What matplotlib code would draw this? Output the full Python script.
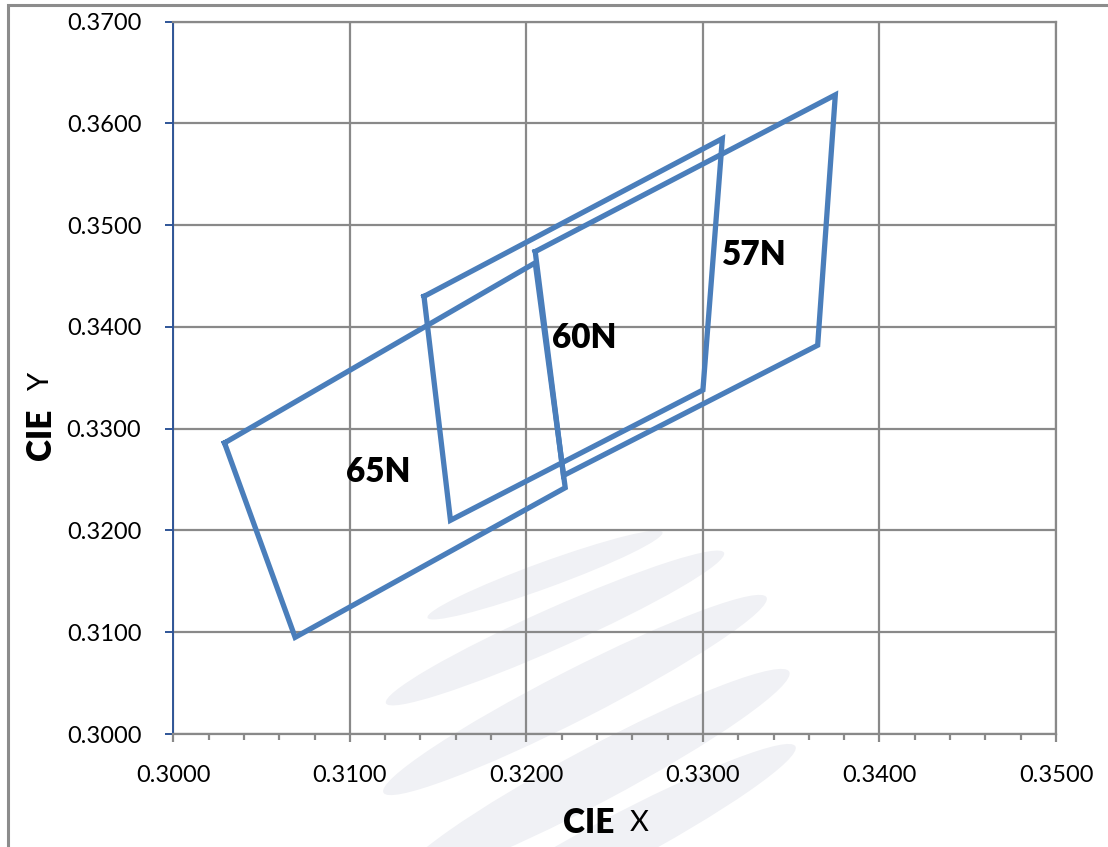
import matplotlib
matplotlib.use("Agg")
import matplotlib.pyplot as plt
from matplotlib.patches import Ellipse, Rectangle
from matplotlib.transforms import IdentityTransform
from matplotlib.ticker import MultipleLocator

# Quadrangle corners (CIE x, CIE y), closed
x65 = [0.3029, 0.3069, 0.3222, 0.3205, 0.3029]
y65 = [0.3286, 0.3095, 0.3242, 0.3463, 0.3286]
x60 = [0.3142, 0.3157, 0.3300, 0.3311, 0.3142]
y60 = [0.3430, 0.3210, 0.3338, 0.3585, 0.3430]
x57 = [0.3205, 0.3375, 0.3365, 0.3221, 0.3205]
y57 = [0.3474, 0.3628, 0.3382, 0.3254, 0.3474]

labels = ["65N", "60N", "57N"]
label_x = [0.3116, 0.3233, 0.3329]
label_y = [0.3257, 0.3389, 0.3471]

xticks = [0.30, 0.31, 0.32, 0.33, 0.34, 0.35]
yticks = [0.30, 0.31, 0.32, 0.33, 0.34, 0.35, 0.36, 0.37]

blue = "#4A7EBB"
grid = "#898989"

fig = plt.figure(figsize=(11.08, 8.47), dpi=100)
W, H = 1108, 847

# faint watermark shapes behind the chart
for cx, cy, w, h, a in [(545, 575, 250, 26, 20), (555, 628, 370, 40, 24),
                        (575, 695, 430, 50, 27), (595, 775, 440, 55, 28),
                        (610, 845, 420, 50, 28)]:
    fig.add_artist(Ellipse((cx, H - cy), w, h, angle=a, transform=IdentityTransform(),
                           facecolor="#F0F1F5", edgecolor="none", zorder=0))

# outer chart frame
fig.add_artist(Rectangle((8 / W, -0.1), 1.2, 1 - 5.5 / H + 0.1, transform=fig.transFigure,
                         fill=False, edgecolor="#8C8C8C", linewidth=2.2, zorder=1))

ax = fig.add_axes([173.3 / W, 1 - 734 / H, (1056 - 173.3) / W, (734 - 21.6) / H])
ax.patch.set_alpha(0)
ax.set_zorder(2)

ax.plot(x65, y65, color=blue, lw=3.8, solid_joinstyle="miter", zorder=3)
ax.plot(x60, y60, color=blue, lw=3.8, solid_joinstyle="miter", zorder=3)
ax.plot(x57, y57, color=blue, lw=3.8, solid_joinstyle="miter", zorder=3)

for t, lx, ly in zip(labels, label_x, label_y):
    ax.text(lx, ly, t, fontsize=24, fontweight="heavy", family="Lato",
            ha="center", va="center", zorder=4)

ax.set_xlim(0.30, 0.35)
ax.set_ylim(0.30, 0.37)
ax.set_xticks(xticks)
ax.set_yticks(yticks)
ax.set_xticklabels([f"{v:.4f}" for v in xticks])
ax.set_yticklabels([f"{v:.4f}" for v in yticks])
ax.xaxis.set_minor_locator(MultipleLocator(0.002))

ax.grid(True, which="major", color=grid, linewidth=1.6)
ax.set_axisbelow(True)

for s in ["top", "right"]:
    ax.spines[s].set_color(grid)
    ax.spines[s].set_linewidth(1.6)
ax.spines["bottom"].set_color(grid)
ax.spines["bottom"].set_linewidth(1.6)
ax.spines["left"].set_color("#2F5597")
ax.spines["left"].set_linewidth(1.4)

ax.tick_params(axis="x", which="major", direction="out", length=6, width=1.6,
               color=grid, pad=16, labelsize=17)
ax.tick_params(axis="x", which="minor", direction="out", length=4.5, width=1.6, color=grid)
ax.tick_params(axis="y", which="major", direction="out", length=6, width=1.4,
               color="#2F5597", pad=17, labelsize=17)
for lab in ax.get_xticklabels() + ax.get_yticklabels():
    lab.set_family("Lato")

# axis titles: bold "CIE" with regular letter
fig.text(589 / W, 1 - 823 / H, "CIE", fontsize=24, fontweight="heavy", family="Lato",
         ha="center", va="center")
fig.text(639 / W, 1 - 823 / H, "X", fontsize=21, family="Lato", ha="center", va="center")
fig.text(41 / W, 1 - 434 / H, "CIE", fontsize=24, fontweight="heavy", family="Lato",
         ha="center", va="center", rotation=90)
fig.text(41 / W, 1 - 382 / H, "Y", fontsize=21, family="Lato", ha="center", va="center",
         rotation=90)

plt.savefig("out.png", dpi=100)
